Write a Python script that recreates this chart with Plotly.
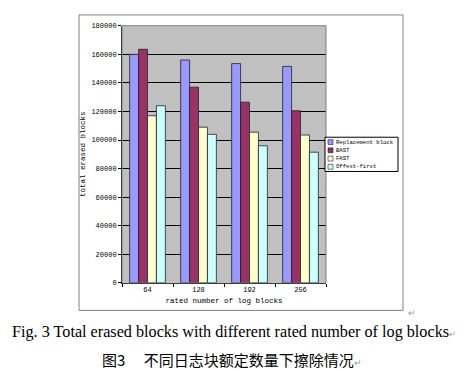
import plotly.graph_objects as go

categories = ["64", "128", "192", "256"]
series_names = ["Replacement block", "BAST", "FAST", "Offest-first"]
replacement = [160000, 156000, 153500, 151500]
bast = [163500, 137000, 126500, 120500]
fast = [117000, 109000, 105500, 103500]
offest_first = [124000, 104000, 96000, 91500]
colors = ["#9999FF", "#993366", "#FFFFCC", "#CCFFFF"]
y_ticks = [0, 20000, 40000, 60000, 80000, 100000, 120000, 140000, 160000, 180000]

W, H = 467, 369
def px(x): return x / W
def py(y): return 1 - y / H

mono = "Liberation Mono"
fig = go.Figure()
for name, vals, c in zip(series_names, [replacement, bast, fast, offest_first], colors):
    fig.add_trace(go.Bar(x=categories, y=vals, name=name, marker_color=c,
                         marker_line=dict(color="#222222", width=0.8)))

fig.update_layout(
    width=W, height=H, margin=dict(l=0, r=0, t=0, b=0),
    paper_bgcolor="white", plot_bgcolor="#C0C0C0",
    barmode="group", bargap=0.3, bargroupgap=0,
    showlegend=False,
    font=dict(family=mono, color="black"),
)
fig.update_xaxes(domain=[px(114), px(318)], showline=True, linecolor="black", linewidth=1,
                 ticks="outside", tickson="boundaries", ticklen=3, tickcolor="black",
                 tickfont=dict(family=mono, size=7),
                 title=dict(text="rated number of log blocks", font=dict(family=mono, size=7.5), standoff=4))
fig.update_yaxes(domain=[py(277), py(14)], range=[0, 180000], tickvals=y_ticks,
                 ticktext=[str(v) for v in y_ticks],
                 showgrid=True, gridcolor="black", gridwidth=1,
                 showline=True, linecolor="black", linewidth=1,
                 ticks="outside", ticklen=3, tickcolor="black",
                 tickfont=dict(family=mono, size=7),
                 title=dict(text="total erased blocks", font=dict(family=mono, size=7.5), standoff=4))

# outer chart frame
fig.add_shape(type="rect", xref="paper", yref="paper", x0=px(71), x1=px(395), y0=py(305), y1=py(3),
              line=dict(color="#808080", width=1), layer="below")
# plot area border
fig.add_shape(type="rect", xref="paper", yref="paper", x0=px(114), x1=px(318), y0=py(277), y1=py(14),
              line=dict(color="#808080", width=1))

# compact legend (Excel style)
lx0, ly0, lx1, ly1 = 317, 128, 390, 163
fig.add_shape(type="rect", xref="paper", yref="paper", x0=px(lx0), x1=px(lx1), y0=py(ly1), y1=py(ly0),
              line=dict(color="black", width=1), fillcolor="white")
row_h = 8.4
for i, (name, c) in enumerate(zip(series_names, colors)):
    cy = ly0 + 5 + i * row_h
    fig.add_shape(type="rect", xref="paper", yref="paper", x0=px(320), x1=px(325),
                  y0=py(cy + 2.5), y1=py(cy - 2.5), fillcolor=c, line=dict(color="#222222", width=0.6))
    fig.add_annotation(text=name, xref="paper", yref="paper", x=px(326), y=py(cy), xanchor="left",
                       yanchor="middle", showarrow=False, font=dict(family=mono, size=5.6, color="black"))

fig.add_annotation(text="↵", xref="paper", yref="paper", x=px(398), y=py(309), xanchor="left",
                   yanchor="middle", showarrow=False, font=dict(size=9, color="#999999"))
fig.add_annotation(text="Fig. 3 Total erased blocks with different rated number of log blocks<span style='color:#999999;font-size:8px'>↵</span>",
                   xref="paper", yref="paper", x=px(2), y=py(327), xanchor="left", yanchor="middle",
                   showarrow=False, font=dict(family="Liberation Serif", size=16.2, color="black"))
fig.add_annotation(text="图3\u3000 不同日志块额定数量下擦除情况<span style='color:#999999;font-size:9px'>↵</span>",
                   xref="paper", yref="paper", x=px(92), y=py(355), xanchor="left", yanchor="middle",
                   showarrow=False, font=dict(family="Noto Sans CJK SC", size=15, color="black"))

fig.write_html("out.html")
